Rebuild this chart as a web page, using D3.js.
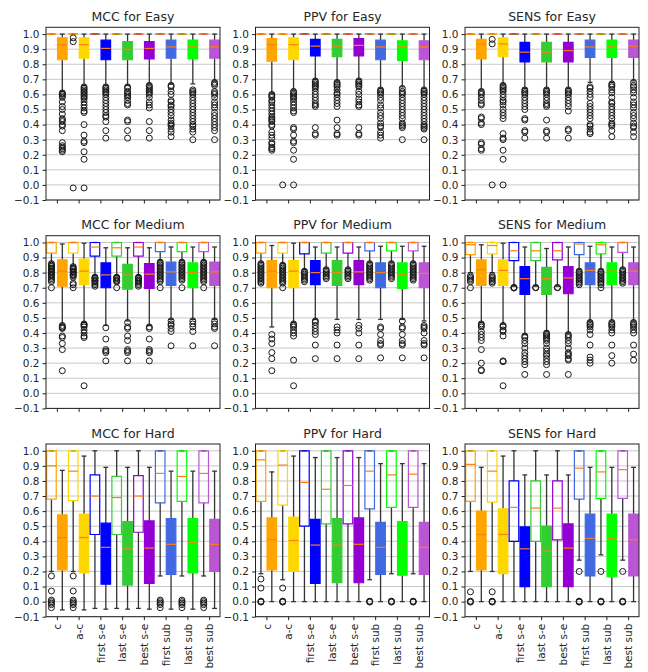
<!DOCTYPE html>
<html>
<head>
<meta charset="utf-8">
<script src="https://cdn.jsdelivr.net/npm/d3@7"></script>
<style>
  body { margin: 0; background: #fff; }
  text { font-family: "DejaVu Sans", sans-serif; fill: #262626; }
</style>
</head>
<body>
<svg id="chart" width="648" height="672"></svg>
<script>
// ---- categories, colours, axis ticks ----
const categories = ["c", "a-c", "first s-e", "last s-e", "best s-e", "first sub", "last sub", "best sub"];
const boxColors = ["#FFA500", "#FFD700", "#0000FF", "#32CD32", "#9400D3", "#4169E1", "#00FF00", "#BA55D3"];
const metrics = ["MCC", "PPV", "SENS"];
const levels = ["Easy", "Medium", "Hard"];
const yTicks = [-0.1, 0.0, 0.1, 0.2, 0.3, 0.4, 0.5, 0.6, 0.7, 0.8, 0.9, 1.0];

// Box statistics per category: [whisker low, q1, median, q3, whisker high]
// "Open" = outlined boxes (left of each tick), "Fill" = filled boxes (right of each tick)

// ---- MCC / Easy ----
const mccEasyOpen = [[1,1,1,1,1],[1,1,1,1,1],[1,1,1,1,1],[1,1,1,1,1],[1,1,1,1,1],[1,1,1,1,1],[1,1,1,1,1],[1,1,1,1,1]];
const mccEasyOpenOut = [[], [0.975, 0.95, -0.02], [], [], [], [], [], []];
const mccEasyFill = [
  [0.62, 0.83, 0.93, 0.975, 1.0], [0.66, 0.84, 0.93, 0.975, 1.0], [0.66, 0.83, 0.905, 0.96, 1.0], [0.66, 0.83, 0.90, 0.95, 1.0],
  [0.67, 0.835, 0.905, 0.95, 1.0], [0.67, 0.84, 0.915, 0.96, 1.0], [0.67, 0.835, 0.915, 0.96, 1.0], [0.69, 0.84, 0.915, 0.96, 1.0]];
const mccEasyFillOut = [
  [0.61, 0.605, 0.60, 0.59, 0.58, 0.55, 0.52, 0.50, 0.47, 0.44, 0.43, 0.42, 0.40, 0.39, 0.36, 0.28, 0.26, 0.25, 0.24, 0.23, 0.22],
  [0.65, 0.64, 0.63, 0.62, 0.61, 0.60, 0.59, 0.58, 0.57, 0.55, 0.53, 0.51, 0.49, 0.48, 0.40, 0.33, 0.29, 0.28, 0.22, 0.17, -0.02],
  [0.65, 0.64, 0.63, 0.62, 0.61, 0.60, 0.58, 0.56, 0.54, 0.52, 0.50, 0.48, 0.46, 0.45, 0.42, 0.36, 0.31],
  [0.65, 0.64, 0.62, 0.61, 0.60, 0.59, 0.58, 0.56, 0.54, 0.53, 0.43, 0.42, 0.36, 0.31],
  [0.66, 0.65, 0.64, 0.63, 0.62, 0.61, 0.60, 0.58, 0.55, 0.53, 0.51, 0.42, 0.36, 0.31],
  [0.66, 0.65, 0.62, 0.60, 0.56, 0.55, 0.53, 0.52, 0.50, 0.48, 0.46, 0.43, 0.41, 0.40, 0.39, 0.37, 0.35, 0.32],
  [0.63, 0.62, 0.61, 0.60, 0.58, 0.56, 0.54, 0.52, 0.50, 0.48, 0.46, 0.44, 0.42, 0.40, 0.39, 0.37, 0.35, 0.30],
  [0.68, 0.67, 0.66, 0.62, 0.61, 0.60, 0.58, 0.55, 0.53, 0.51, 0.48, 0.46, 0.44, 0.42, 0.40, 0.38, 0.36, 0.30]];

// ---- PPV / Easy ----
const ppvEasyOpen = [[1,1,1,1,1],[1,1,1,1,1],[1,1,1,1,1],[1,1,1,1,1],[1,1,1,1,1],[1,1,1,1,1],[1,1,1,1,1],[1,1,1,1,1]];
const ppvEasyOpenOut = [[], [0.0], [], [], [], [], [], []];
const ppvEasyFill = [
  [0.61, 0.82, 0.93, 0.97, 1.0], [0.63, 0.83, 0.93, 0.975, 1.0], [0.70, 0.855, 0.92, 0.965, 1.0], [0.69, 0.85, 0.92, 0.965, 1.0],
  [0.70, 0.855, 0.925, 0.97, 1.0], [0.64, 0.83, 0.915, 0.96, 1.0], [0.65, 0.825, 0.915, 0.955, 1.0], [0.64, 0.83, 0.915, 0.955, 1.0]];
const ppvEasyFillOut = [
  [0.60, 0.59, 0.58, 0.56, 0.55, 0.53, 0.51, 0.49, 0.47, 0.45, 0.44, 0.43, 0.42, 0.40, 0.39, 0.35, 0.33, 0.31, 0.28, 0.27, 0.25, 0.24, 0.23],
  [0.62, 0.61, 0.60, 0.59, 0.58, 0.57, 0.55, 0.53, 0.51, 0.49, 0.48, 0.38, 0.37, 0.33, 0.29, 0.28, 0.23, 0.17, 0.0],
  [0.69, 0.68, 0.67, 0.66, 0.65, 0.64, 0.62, 0.60, 0.58, 0.56, 0.54, 0.53, 0.52, 0.38, 0.34, 0.33],
  [0.68, 0.67, 0.66, 0.65, 0.63, 0.61, 0.60, 0.58, 0.56, 0.54, 0.52, 0.43, 0.38, 0.34, 0.33],
  [0.69, 0.68, 0.67, 0.66, 0.65, 0.62, 0.60, 0.57, 0.55, 0.53, 0.52, 0.38, 0.34, 0.33],
  [0.63, 0.62, 0.61, 0.60, 0.58, 0.56, 0.53, 0.51, 0.48, 0.46, 0.44, 0.41, 0.39, 0.38, 0.35, 0.33, 0.31],
  [0.64, 0.62, 0.61, 0.60, 0.58, 0.56, 0.54, 0.52, 0.50, 0.48, 0.46, 0.44, 0.41, 0.40, 0.39, 0.38, 0.30],
  [0.63, 0.62, 0.61, 0.60, 0.58, 0.56, 0.54, 0.52, 0.50, 0.48, 0.46, 0.44, 0.42, 0.40, 0.39, 0.38, 0.37, 0.30]];

// ---- SENS / Easy ----
const sensEasyOpen = [[1,1,1,1,1],[1,1,1,1,1],[1,1,1,1,1],[1,1,1,1,1],[1,1,1,1,1],[1,1,1,1,1],[1,1,1,1,1],[1,1,1,1,1]];
const sensEasyOpenOut = [[], [0.965, 0.935, 0.0], [], [], [], [], [], []];
const sensEasyFill = [
  [0.63, 0.835, 0.935, 0.965, 1.0], [0.67, 0.85, 0.935, 0.975, 1.0], [0.64, 0.815, 0.88, 0.945, 1.0], [0.64, 0.815, 0.88, 0.945, 1.0],
  [0.64, 0.815, 0.89, 0.945, 1.0], [0.68, 0.845, 0.915, 0.96, 1.0], [0.68, 0.845, 0.92, 0.96, 1.0], [0.69, 0.845, 0.92, 0.96, 1.0]];
const sensEasyFillOut = [
  [0.62, 0.61, 0.60, 0.58, 0.56, 0.54, 0.53, 0.45, 0.44, 0.41, 0.40, 0.28, 0.27, 0.24, 0.23],
  [0.66, 0.65, 0.64, 0.63, 0.62, 0.60, 0.58, 0.56, 0.55, 0.53, 0.50, 0.48, 0.46, 0.44, 0.34, 0.31, 0.30, 0.23, 0.17, 0.0],
  [0.63, 0.62, 0.61, 0.60, 0.58, 0.56, 0.54, 0.52, 0.50, 0.44, 0.43, 0.36, 0.35, 0.31],
  [0.63, 0.62, 0.61, 0.60, 0.58, 0.56, 0.54, 0.53, 0.52, 0.43, 0.36, 0.35, 0.31],
  [0.63, 0.62, 0.61, 0.60, 0.58, 0.56, 0.54, 0.52, 0.49, 0.37, 0.36, 0.31],
  [0.65, 0.64, 0.62, 0.60, 0.58, 0.54, 0.52, 0.50, 0.48, 0.46, 0.44, 0.40, 0.39, 0.37, 0.35, 0.34],
  [0.67, 0.66, 0.65, 0.63, 0.61, 0.58, 0.55, 0.54, 0.52, 0.50, 0.48, 0.46, 0.44, 0.41, 0.40, 0.39, 0.36, 0.32],
  [0.68, 0.66, 0.65, 0.63, 0.61, 0.58, 0.55, 0.53, 0.51, 0.48, 0.46, 0.44, 0.41, 0.39, 0.38, 0.35, 0.32]];

// ---- MCC / Medium ----
const mccMediumOpen = [
  [0.87, 0.93, 1.0, 1.0, 1.0], [0.85, 0.93, 1.0, 1.0, 1.0], [0.78, 0.91, 0.97, 1.0, 1.0], [0.78, 0.91, 0.965, 1.0, 1.0],
  [0.78, 0.91, 0.97, 1.0, 1.0], [0.88, 0.94, 1.0, 1.0, 1.0], [0.88, 0.94, 1.0, 1.0, 1.0], [0.88, 0.94, 1.0, 1.0, 1.0]];
const mccMediumOpenOut = [
  [0.86, 0.85, 0.845, 0.84, 0.83, 0.825, 0.82, 0.81, 0.805, 0.80, 0.79, 0.785, 0.78, 0.77, 0.76, 0.75, 0.74, 0.70],
  [0.84, 0.83, 0.825, 0.82, 0.81, 0.805, 0.80, 0.79, 0.785, 0.78, 0.77, 0.73, 0.72, 0.70],
  [0.77, 0.765, 0.76, 0.75, 0.745, 0.74, 0.73, 0.72, 0.71],
  [0.77, 0.765, 0.76, 0.75, 0.745, 0.74, 0.70],
  [0.77, 0.765, 0.76, 0.75, 0.745, 0.74, 0.73, 0.72, 0.71],
  [0.87, 0.86, 0.85, 0.84, 0.83, 0.82, 0.81, 0.80, 0.79, 0.78, 0.77, 0.76, 0.75, 0.74, 0.70],
  [0.87, 0.86, 0.85, 0.84, 0.83, 0.82, 0.81, 0.80, 0.79, 0.78, 0.77, 0.76, 0.75, 0.70],
  [0.87, 0.86, 0.85, 0.84, 0.83, 0.82, 0.81, 0.80, 0.79, 0.78, 0.77, 0.76, 0.75, 0.74, 0.70]];
const mccMediumFill = [
  [0.46, 0.71, 0.81, 0.885, 0.99], [0.47, 0.72, 0.81, 0.89, 0.995], [0.45, 0.70, 0.785, 0.865, 0.965], [0.48, 0.69, 0.785, 0.855, 0.965],
  [0.45, 0.695, 0.79, 0.86, 0.965], [0.49, 0.715, 0.805, 0.87, 0.97], [0.49, 0.70, 0.80, 0.865, 0.97], [0.49, 0.715, 0.805, 0.87, 0.97]];
const mccMediumFillOut = [
  [0.45, 0.44, 0.435, 0.43, 0.38, 0.37, 0.33, 0.29, 0.15],
  [0.46, 0.455, 0.45, 0.44, 0.42, 0.40, 0.38, 0.37, 0.05],
  [0.435, 0.36, 0.29, 0.28, 0.27, 0.215],
  [0.47, 0.44, 0.43, 0.38, 0.35, 0.29, 0.28, 0.27, 0.215],
  [0.44, 0.43, 0.36, 0.29, 0.28, 0.27, 0.215],
  [0.48, 0.46, 0.45, 0.43, 0.41, 0.315],
  [0.48, 0.46, 0.44, 0.41, 0.315],
  [0.48, 0.46, 0.44, 0.43, 0.315]];

// ---- PPV / Medium ----
const ppvMediumOpen = [
  [0.87, 0.93, 1.0, 1.0, 1.0], [0.86, 0.93, 1.0, 1.0, 1.0], [0.82, 0.925, 1.0, 1.0, 1.0], [0.83, 0.93, 1.0, 1.0, 1.0],
  [0.83, 0.93, 1.0, 1.0, 1.0], [0.87, 0.945, 1.0, 1.0, 1.0], [0.87, 0.945, 1.0, 1.0, 1.0], [0.87, 0.945, 1.0, 1.0, 1.0]];
const ppvMediumOpenOut = [
  [0.86, 0.85, 0.84, 0.83, 0.82, 0.81, 0.80, 0.79, 0.78, 0.77, 0.76, 0.75, 0.74, 0.73],
  [0.85, 0.84, 0.83, 0.82, 0.81, 0.80, 0.79, 0.78, 0.77, 0.76, 0.75, 0.74, 0.73, 0.70],
  [0.81, 0.80, 0.79, 0.78, 0.77, 0.76, 0.75, 0.74],
  [0.82, 0.81, 0.80, 0.79, 0.78, 0.77, 0.76],
  [0.82, 0.81, 0.80, 0.79, 0.78, 0.77, 0.76],
  [0.86, 0.85, 0.84, 0.83, 0.82, 0.81, 0.80, 0.79, 0.78, 0.77, 0.76, 0.75],
  [0.86, 0.85, 0.84, 0.83, 0.82, 0.81, 0.80, 0.79, 0.78, 0.77, 0.76],
  [0.86, 0.85, 0.84, 0.83, 0.82, 0.81, 0.80, 0.79, 0.78, 0.77, 0.76, 0.75]];
const ppvMediumFill = [
  [0.44, 0.70, 0.81, 0.88, 0.98], [0.47, 0.70, 0.81, 0.88, 0.995], [0.49, 0.72, 0.80, 0.88, 0.97], [0.49, 0.715, 0.80, 0.88, 0.97],
  [0.49, 0.72, 0.805, 0.88, 0.97], [0.49, 0.70, 0.80, 0.865, 0.975], [0.49, 0.695, 0.79, 0.865, 0.975], [0.48, 0.70, 0.795, 0.865, 0.975]];
const ppvMediumFillOut = [
  [0.39, 0.36, 0.33, 0.27, 0.23, 0.15],
  [0.46, 0.45, 0.44, 0.42, 0.40, 0.38, 0.22, 0.05],
  [0.48, 0.47, 0.45, 0.43, 0.41, 0.39, 0.32, 0.23],
  [0.44, 0.42, 0.40, 0.32, 0.23],
  [0.45, 0.43, 0.40, 0.32, 0.23],
  [0.44, 0.43, 0.39, 0.35, 0.33, 0.32, 0.235],
  [0.48, 0.44, 0.43, 0.39, 0.35, 0.33, 0.32, 0.235],
  [0.45, 0.44, 0.43, 0.40, 0.35, 0.33, 0.32, 0.235]];

// ---- SENS / Medium ----
const sensMediumOpen = [
  [0.80, 0.92, 0.985, 1.0, 1.0], [0.80, 0.925, 0.98, 1.0, 1.0], [0.71, 0.88, 0.945, 1.0, 1.0], [0.71, 0.88, 0.945, 1.0, 1.0],
  [0.71, 0.885, 0.945, 1.0, 1.0], [0.82, 0.92, 0.99, 1.0, 1.0], [0.82, 0.925, 0.985, 1.0, 1.0], [0.83, 0.935, 1.0, 1.0, 1.0]];
const sensMediumOpenOut = [
  [0.78, 0.77, 0.76, 0.75, 0.74, 0.70],
  [0.78, 0.77, 0.76, 0.75, 0.74, 0.73],
  [0.70, 0.702, 0.698],
  [0.70, 0.702],
  [0.70, 0.702],
  [0.81, 0.80, 0.79, 0.78, 0.77, 0.76, 0.75, 0.74, 0.73, 0.72],
  [0.81, 0.80, 0.79, 0.78, 0.77, 0.76, 0.75, 0.74, 0.73, 0.72, 0.70],
  [0.82, 0.81, 0.80, 0.79, 0.78, 0.77, 0.76, 0.75, 0.74, 0.73]];
const sensMediumFill = [
  [0.47, 0.715, 0.82, 0.885, 0.985], [0.46, 0.715, 0.815, 0.885, 0.995], [0.39, 0.655, 0.76, 0.84, 0.97], [0.41, 0.655, 0.76, 0.835, 0.96],
  [0.40, 0.66, 0.765, 0.84, 0.97], [0.48, 0.72, 0.815, 0.865, 0.975], [0.48, 0.72, 0.81, 0.865, 0.97], [0.48, 0.72, 0.81, 0.865, 0.97]];
const sensMediumFillOut = [
  [0.46, 0.45, 0.44, 0.41, 0.39, 0.37, 0.35, 0.29, 0.20, 0.155, 0.15],
  [0.45, 0.44, 0.42, 0.41, 0.38, 0.215, 0.21, 0.05],
  [0.38, 0.37, 0.35, 0.33, 0.30, 0.27, 0.25, 0.23, 0.21, 0.19, 0.125],
  [0.40, 0.39, 0.38, 0.37, 0.36, 0.35, 0.33, 0.30, 0.28, 0.26, 0.25, 0.23, 0.21, 0.19, 0.125],
  [0.39, 0.38, 0.37, 0.35, 0.33, 0.30, 0.27, 0.26, 0.25, 0.23, 0.22, 0.125],
  [0.47, 0.46, 0.45, 0.44, 0.42, 0.39, 0.32, 0.24, 0.22, 0.20],
  [0.47, 0.46, 0.45, 0.44, 0.42, 0.40, 0.32, 0.25, 0.20],
  [0.47, 0.46, 0.45, 0.44, 0.42, 0.40, 0.32, 0.26, 0.22]];

// ---- MCC / Hard ----
const mccHardOpen = [
  [0.20, 0.68, 0.90, 1.0, 1.0], [0.20, 0.67, 0.865, 1.0, 1.0], [-0.045, 0.445, 0.70, 0.84, 1.0], [-0.045, 0.445, 0.69, 0.83, 1.0],
  [-0.045, 0.46, 0.70, 0.835, 1.0], [0.17, 0.655, 0.85, 1.0, 1.0], [0.17, 0.665, 0.83, 1.0, 1.0], [0.17, 0.655, 0.85, 1.0, 1.0]];
const mccHardOpenOut = [
  [0.17, 0.07, 0.01, 0.0, -0.01, -0.02, -0.04],
  [0.17, 0.07, 0.01, 0.0, -0.01, -0.02, -0.04],
  [], [], [],
  [0.01, 0.0, -0.01, -0.02, -0.04],
  [0.01, 0.0, -0.01, -0.02, -0.04],
  [0.01, 0.0, -0.01, -0.02, -0.04]];
const mccHardFill = [
  [-0.055, 0.21, 0.425, 0.575, 0.87], [-0.055, 0.19, 0.425, 0.58, 0.965], [-0.05, 0.115, 0.36, 0.52, 0.89], [-0.05, 0.11, 0.35, 0.53, 0.89],
  [-0.05, 0.12, 0.355, 0.535, 0.89], [-0.05, 0.18, 0.38, 0.55, 0.865], [-0.05, 0.19, 0.39, 0.55, 0.865], [-0.045, 0.20, 0.38, 0.545, 0.865]];
const mccHardFillOut = [[], [], [], [], [], [], [], []];

// ---- PPV / Hard ----
const ppvHardOpen = [
  [0.185, 0.665, 0.94, 1.0, 1.0], [0.145, 0.64, 0.905, 1.0, 1.0], [0.0, 0.50, 0.79, 1.0, 1.0], [0.0, 0.515, 0.745, 1.0, 1.0],
  [0.0, 0.515, 0.77, 1.0, 1.0], [0.145, 0.615, 0.865, 1.0, 1.0], [0.185, 0.625, 0.84, 1.0, 1.0], [0.185, 0.625, 0.845, 1.0, 1.0]];
const ppvHardOpenOut = [
  [0.15, 0.09, 0.0, 0.003, -0.003],
  [0.09, 0.0, 0.003, -0.003],
  [], [], [],
  [0.0, 0.003, -0.003],
  [0.0, 0.003, -0.003],
  [0.0, 0.003, -0.003]];
const ppvHardFill = [
  [0.0, 0.21, 0.41, 0.555, 0.86], [0.0, 0.20, 0.405, 0.56, 0.965], [0.0, 0.12, 0.375, 0.545, 0.955], [0.0, 0.125, 0.375, 0.55, 0.955],
  [0.0, 0.125, 0.38, 0.555, 0.955], [0.0, 0.18, 0.36, 0.525, 0.915], [0.0, 0.175, 0.36, 0.53, 0.915], [0.0, 0.18, 0.36, 0.525, 0.915]];
const ppvHardFillOut = [[], [], [], [], [], [], [], []];

// ---- SENS / Hard ----
const sensHardOpen = [
  [0.20, 0.665, 0.91, 1.0, 1.0], [0.20, 0.66, 0.865, 1.0, 1.0], [0.0, 0.40, 0.625, 0.80, 1.0], [0.0, 0.40, 0.62, 0.80, 1.0],
  [0.0, 0.41, 0.62, 0.80, 1.0], [0.275, 0.68, 0.885, 1.0, 1.0], [0.31, 0.685, 0.86, 1.0, 1.0], [0.275, 0.685, 0.875, 1.0, 1.0]];
const sensHardOpenOut = [
  [0.065, 0.0, 0.003, -0.003],
  [0.065, 0.0, 0.003, -0.003],
  [], [], [],
  [0.20, 0.0, 0.003, -0.003],
  [0.20, 0.0, 0.003, -0.003],
  [0.20, 0.0, 0.003, -0.003]];
const sensHardFill = [
  [0.0, 0.21, 0.445, 0.60, 0.89], [0.0, 0.185, 0.445, 0.615, 0.965], [0.0, 0.10, 0.35, 0.495, 0.84], [0.0, 0.10, 0.335, 0.50, 0.84],
  [0.0, 0.10, 0.355, 0.515, 0.84], [0.0, 0.17, 0.42, 0.58, 0.89], [0.0, 0.165, 0.42, 0.58, 0.89], [0.0, 0.17, 0.41, 0.58, 0.89]];
const sensHardFillOut = [[], [], [], [], [], [], [], []];

// ---- panel table (rows = difficulty, columns = metric) ----
const panelData = [
  [[mccEasyOpen, mccEasyOpenOut, mccEasyFill, mccEasyFillOut],
   [ppvEasyOpen, ppvEasyOpenOut, ppvEasyFill, ppvEasyFillOut],
   [sensEasyOpen, sensEasyOpenOut, sensEasyFill, sensEasyFillOut]],
  [[mccMediumOpen, mccMediumOpenOut, mccMediumFill, mccMediumFillOut],
   [ppvMediumOpen, ppvMediumOpenOut, ppvMediumFill, ppvMediumFillOut],
   [sensMediumOpen, sensMediumOpenOut, sensMediumFill, sensMediumFillOut]],
  [[mccHardOpen, mccHardOpenOut, mccHardFill, mccHardFillOut],
   [ppvHardOpen, ppvHardOpenOut, ppvHardFill, ppvHardFillOut],
   [sensHardOpen, sensHardOpenOut, sensHardFill, sensHardFillOut]]
];

// ---- layout ----
const colLeft = [46, 255.5, 465];
const rowTop = [27.3, 235.7, 444];
const panelW = 174;
const panelH = 172.7;
const boxW = 0.44;      // in category units
const boxShift = 0.25;  // open box left of tick, filled box right of tick
const medianColor = "#ff7f0e";
const inkColor = "#1a1a1a";
const whiskerColor = "#333";

const svg = d3.select("#chart");

const x = d3.scaleLinear().domain([0.5, 8.5]).range([0, panelW]);
const y = d3.scaleLinear().domain([-0.1, 1.045]).range([panelH, 0]);
const fmt = d => (d < 0 ? "\u2212" + Math.abs(d).toFixed(1) : d.toFixed(1));

function drawBox(g, center, stats, outliers, color, filled) {
  const [lo, q1, med, q3, hi] = stats;
  const x0 = x(center - boxW / 2), x1 = x(center + boxW / 2);
  const xc = x(center);
  const capHalf = (x1 - x0) / 4;

  // whiskers
  g.append("line").attr("x1", xc).attr("x2", xc).attr("y1", y(q1)).attr("y2", y(lo))
    .attr("stroke", whiskerColor).attr("stroke-width", 1.3);
  g.append("line").attr("x1", xc).attr("x2", xc).attr("y1", y(q3)).attr("y2", y(hi))
    .attr("stroke", whiskerColor).attr("stroke-width", 1.3);
  // caps
  [lo, hi].forEach(v => {
    g.append("line").attr("x1", xc - capHalf).attr("x2", xc + capHalf).attr("y1", y(v)).attr("y2", y(v))
      .attr("stroke", whiskerColor).attr("stroke-width", 1.3);
  });
  // box (path so a collapsed box still shows as a line)
  const p = d3.path();
  p.moveTo(x0, y(q1)); p.lineTo(x1, y(q1)); p.lineTo(x1, y(q3)); p.lineTo(x0, y(q3)); p.closePath();
  g.append("path").attr("d", p.toString())
    .attr("fill", filled ? color : "none")
    .attr("stroke", color).attr("stroke-width", 1.2);
  // median
  g.append("line").attr("x1", x0).attr("x2", x1).attr("y1", y(med)).attr("y2", y(med))
    .attr("stroke", medianColor).attr("stroke-width", 1.2);
  // fliers
  g.selectAll(null).data(outliers).enter().append("circle")
    .attr("cx", xc).attr("cy", d => y(d)).attr("r", 3)
    .attr("fill", "none").attr("stroke", inkColor).attr("stroke-width", 1);
}

levels.forEach((level, r) => {
  metrics.forEach((metric, c) => {
    const [openStats, openOut, fillStats, fillOut] = panelData[r][c];
    const g = svg.append("g").attr("transform", `translate(${colLeft[c]},${rowTop[r]})`);

    // horizontal grid
    g.append("g").selectAll("line").data(yTicks).enter().append("line")
      .attr("x1", 0).attr("x2", panelW)
      .attr("y1", d => y(d)).attr("y2", d => y(d))
      .attr("stroke", "#c8c8c8").attr("stroke-width", 1);

    // boxes
    const boxes = g.append("g");
    categories.forEach((cat, i) => {
      drawBox(boxes, i + 1 - boxShift, openStats[i], openOut[i], boxColors[i], false);
      drawBox(boxes, i + 1 + boxShift, fillStats[i], fillOut[i], boxColors[i], true);
    });

    // spines
    g.append("rect").attr("x", 0).attr("y", 0).attr("width", panelW).attr("height", panelH)
      .attr("fill", "none").attr("stroke", "#222").attr("stroke-width", 1);

    // y axis
    const ya = g.append("g").call(d3.axisLeft(y).tickValues(yTicks).tickSize(3.5).tickPadding(3).tickFormat(fmt));
    ya.select(".domain").remove();
    ya.selectAll(".tick line").attr("stroke", "#222");
    ya.selectAll(".tick text").attr("font-size", "10.5px").attr("fill", "#262626")
      .attr("font-family", "DejaVu Sans");

    // x axis
    const xa = g.append("g").attr("transform", `translate(0,${panelH})`)
      .call(d3.axisBottom(x).tickValues(d3.range(1, categories.length + 1)).tickSize(3.5).tickFormat(""));
    xa.select(".domain").remove();
    xa.selectAll(".tick line").attr("stroke", "#222");
    if (r === levels.length - 1) {
      xa.selectAll(".tick").append("text")
        .attr("transform", "translate(0,7) rotate(-90)")
        .attr("text-anchor", "end")
        .attr("dy", "0.35em")
        .attr("font-size", "10.5px")
        .attr("fill", "#262626")
        .attr("font-family", "DejaVu Sans")
        .text(d => categories[d - 1]);
    }

    // title
    g.append("text").attr("x", panelW / 2).attr("y", -6.5)
      .attr("text-anchor", "middle").attr("font-size", "12.5px")
      .text(`${metric} for ${level}`);
  });
});
</script>
</body>
</html>
